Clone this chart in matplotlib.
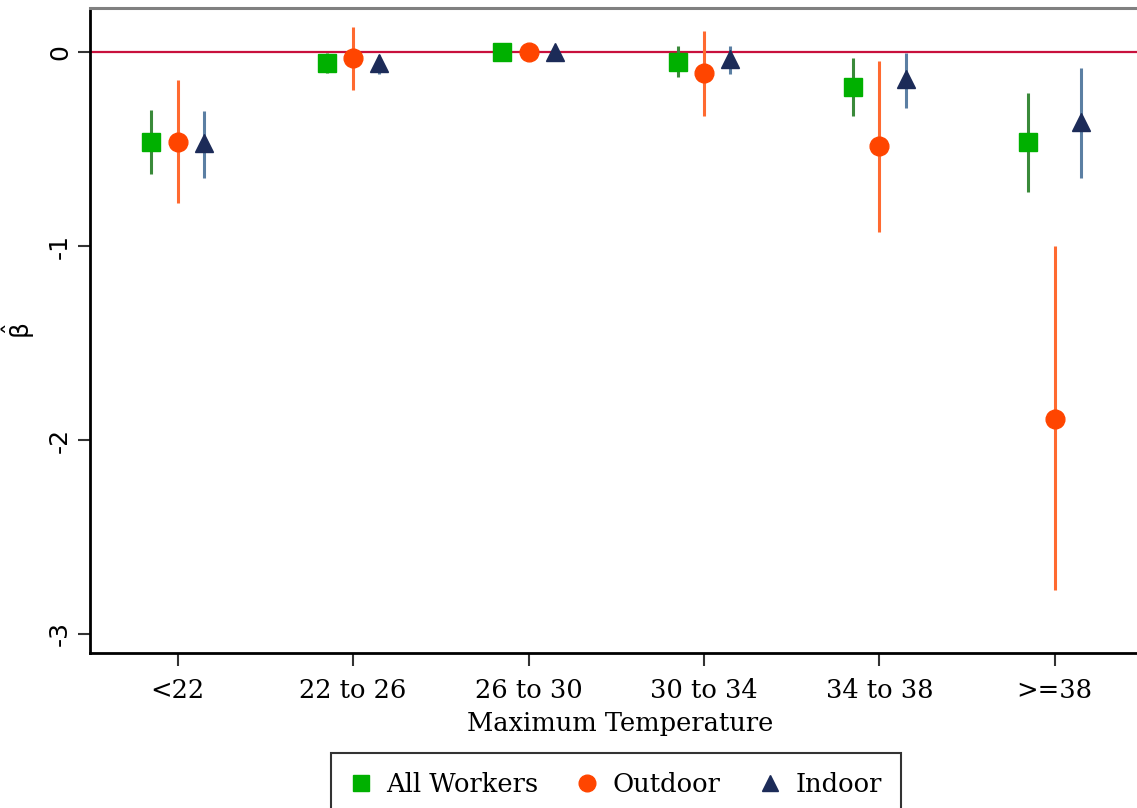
import matplotlib.pyplot as plt
import numpy as np
from matplotlib.lines import Line2D

plt.rcParams["mathtext.default"] = "regular"

# categories and estimates
cats = ["<22", "22 to 26", "26 to 30", "30 to 34", "34 to 38", ">=38"]

all_b = [-0.464, -0.057, 0.0, -0.050, -0.180, -0.466]
all_lo = [-0.630, -0.108, 0.0, -0.130, -0.330, -0.720]
all_hi = [-0.300, -0.005, 0.0, 0.030, -0.031, -0.210]

out_b = [-0.464, -0.031, 0.0, -0.108, -0.485, -1.890]
out_lo = [-0.778, -0.196, 0.0, -0.330, -0.930, -2.775]
out_hi = [-0.144, 0.129, 0.0, 0.108, -0.046, -1.000]

in_b = [-0.470, -0.057, 0.0, -0.036, -0.140, -0.360]
in_lo = [-0.649, -0.113, 0.0, -0.113, -0.290, -0.650]
in_hi = [-0.304, -0.015, 0.0, 0.030, -0.005, -0.080]

x = np.arange(len(cats))
off = 0.15

fig = plt.figure(figsize=(11.37, 8.08), dpi=100)
# axes run off the right edge like the original crop
ax = fig.add_axes([90 / 1137, 155 / 808, 1060 / 1137, 645 / 808])

ax.axhline(0, color="#c8103c", lw=1.6, zorder=1)

series = [
    (x - off, all_b, all_lo, all_hi, "s", "#00b000", "#3a8a3a", 12.5),
    (x, out_b, out_lo, out_hi, "o", "#ff4500", "#ff6a30", 13.5),
    (x + off, in_b, in_lo, in_hi, "^", "#1c2b58", "#5b7fa3", 13.5),
]
for xs, b, lo, hi, m, mc, lc, ms in series:
    ax.vlines(xs, lo, hi, color=lc, lw=2.2, zorder=2)
    ax.plot(xs, b, ls="none", marker=m, color=mc, ms=ms, mec=mc, zorder=3)

ax.set_xlim(-0.5, 5.543)
ax.set_ylim(-3.098, 0.227)

ax.set_yticks([0, -1, -2, -3])
ax.set_yticklabels(["0", "-1", "-2", "-3"], rotation=90, va="center",
                   fontsize=18, family="DejaVu Sans")
ax.set_xticks(x)
ax.set_xticklabels(cats, fontsize=18.5, family="DejaVu Serif")
ax.tick_params(axis="both", length=9, width=1.5, color="#333333", pad=9)
ax.tick_params(axis="y", pad=4)

ax.spines["right"].set_visible(False)
ax.spines["top"].set_color("#808080")
ax.spines["top"].set_linewidth(2.2)
ax.spines["left"].set_linewidth(2)
ax.spines["bottom"].set_linewidth(2)

ax.set_xlabel("Maximum Temperature", fontsize=18.5, family="DejaVu Serif",
              labelpad=6)
ax.set_ylabel(r"$\hat{\beta}$", fontsize=18, labelpad=8)

handles = [
    Line2D([], [], ls="none", marker="s", color="#00b000", ms=12),
    Line2D([], [], ls="none", marker="o", color="#ff4500", ms=12),
    Line2D([], [], ls="none", marker="^", color="#1c2b58", ms=12),
]
leg = fig.legend(handles, ["All Workers", "Outdoor", "Indoor"], ncol=3,
                 loc="upper center", bbox_to_anchor=(616 / 1137, 1 - 753 / 808),
                 prop={"family": "DejaVu Serif", "size": 18.5},
                 frameon=True, fancybox=False, handlelength=0.8,
                 handletextpad=0.6, columnspacing=1.5, borderpad=0.75,
                 borderaxespad=0)
leg.get_frame().set_edgecolor("black")
leg.get_frame().set_linewidth(1.5)

fig.savefig("out.png", dpi=100)
